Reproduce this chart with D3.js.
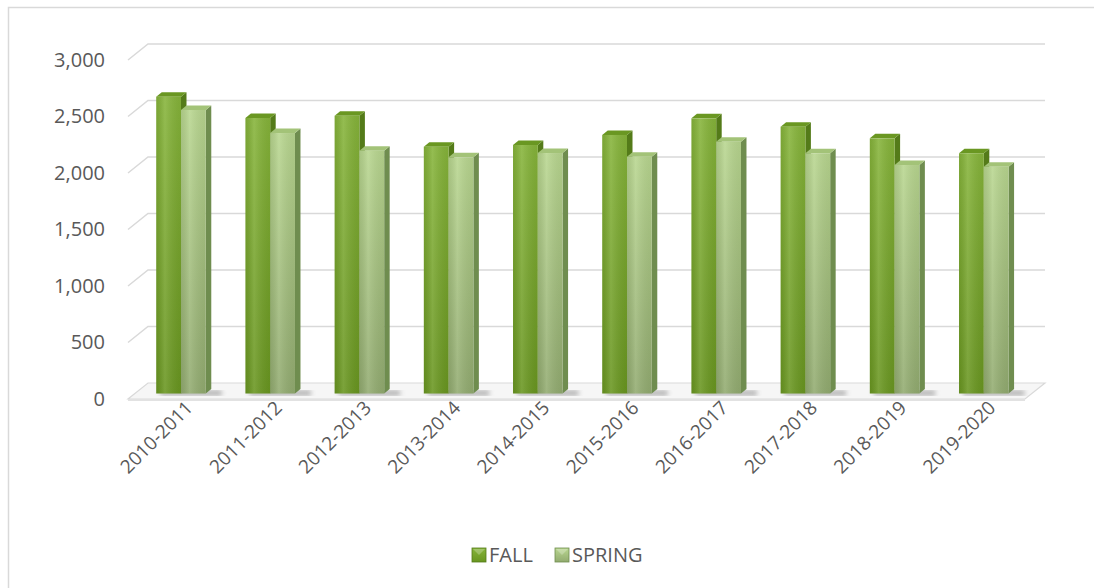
<!DOCTYPE html>
<html>
<head>
<meta charset="utf-8">
<script src="https://cdn.jsdelivr.net/npm/d3@7"></script>
<style>
  body { margin: 0; background: #fff; }
  svg { display: block; font-family: "Open Sans", "Noto Sans", sans-serif; }
</style>
</head>
<body>
<svg id="chart" width="1094" height="588"></svg>
<script>
const categories = ["2010-2011", "2011-2012", "2012-2013", "2013-2014", "2014-2015",
  "2015-2016", "2016-2017", "2017-2018", "2018-2019", "2019-2020"];
const seriesNames = ["FALL", "SPRING"];
const fall = [2627, 2438, 2458, 2184, 2199, 2288, 2435, 2361, 2258, 2126];
const spring = [2509, 2305, 2149, 2090, 2128, 2096, 2228, 2126, 2022, 2007];
const yTicks = [0, 500, 1000, 1500, 2000, 2500, 3000];

const svg = d3.select("#chart");

// oblique 3d: front plane, back wall, and the plane the bars sit in
const depth = { x: 20, y: -16 };
const barDepth = { x: 5.5, y: -4.5 };
const frontLeft = 128, frontRight = 1025;

const yFront = d3.scaleLinear().domain([0, 3000]).range([399, 60]);
const yBack = d3.scaleLinear().domain([0, 3000]).range([383, 44]);
const yBar = d3.scaleLinear().domain([0, 3000]).range([393.5, 54.5]);

const x = d3.scaleBand().domain(categories).range([136.4, 1028.4]);
const xSub = d3.scaleBand().domain(seriesNames).range([0, x.bandwidth()]).paddingOuter(0.8);

const colors = {
  FALL: { top: "#86b43a", bottom: "#699620", lid: "#6a9722", side: "#547b19" },
  SPRING: { top: "#b8d68f", bottom: "#92ab70", lid: "#a3c378", side: "#6f8d4f" }
};

const defs = svg.append("defs");
seriesNames.forEach(s => {
  const g = defs.append("linearGradient").attr("id", "grad" + s)
    .attr("x1", 0).attr("y1", 0).attr("x2", 0).attr("y2", 1);
  g.append("stop").attr("offset", "0%").attr("stop-color", colors[s].top);
  g.append("stop").attr("offset", "100%").attr("stop-color", colors[s].bottom);
  const h = defs.append("linearGradient").attr("id", "shine" + s)
    .attr("x1", 0).attr("y1", 0).attr("x2", 1).attr("y2", 0);
  h.append("stop").attr("offset", "0%").attr("stop-color", "#000").attr("stop-opacity", 0.08);
  h.append("stop").attr("offset", "35%").attr("stop-color", "#fff").attr("stop-opacity", 0.12);
  h.append("stop").attr("offset", "100%").attr("stop-color", "#000").attr("stop-opacity", 0.06);
});
defs.append("filter").attr("id", "blur").append("feGaussianBlur").attr("stdDeviation", 2.5);

// chart frame
svg.append("rect")
  .attr("x", 8.5).attr("y", 7.5).attr("width", 1200).attr("height", 700)
  .attr("fill", "none").attr("stroke", "#d9d9d9").attr("stroke-width", 1.5);

// floor
const floorPts = [
  [frontLeft, yFront(0)], [frontRight, yFront(0)],
  [frontRight + depth.x, yBack(0)], [frontLeft + depth.x, yBack(0)]
];
svg.append("polygon")
  .attr("points", floorPts.map(p => p.join(",")).join(" "))
  .attr("fill", "#f6f6f6").attr("stroke", "#d9d9d9").attr("stroke-width", 1.2);
svg.append("rect")
  .attr("x", frontLeft).attr("y", yFront(0)).attr("width", frontRight - frontLeft).attr("height", 2)
  .attr("fill", "#e2e2e2");

// gridlines: back wall + left diagonal
const grid = svg.append("g").attr("stroke", "#d9d9d9").attr("stroke-width", 1.5).attr("fill", "none");
yTicks.filter(v => v > 0).forEach(v => {
  grid.append("polyline")
    .attr("points", `${frontLeft},${yFront(v)} ${frontLeft + depth.x},${yBack(v)} ${frontRight + depth.x},${yBack(v)}`);
});

// bar shadows on floor
const shadows = svg.append("g").attr("filter", "url(#blur)").attr("fill", "#7a7a7a").attr("opacity", 0.6);
categories.forEach(c => {
  const x0 = x(c) + xSub("FALL");
  const w = xSub.bandwidth() * 2;
  shadows.append("rect")
    .attr("x", x0 + 4).attr("y", yBar(0) - 3).attr("width", w + 12).attr("height", 5);
});

// bars
const bars = svg.append("g");
categories.forEach((c, i) => {
  const vals = { FALL: fall[i], SPRING: spring[i] };
  seriesNames.forEach(s => {
    const x0 = x(c) + xSub(s);
    const w = xSub.bandwidth();
    const y0 = yBar(vals[s]);
    const y1 = yBar(0);
    const dx = barDepth.x, dy = barDepth.y;
    const g = bars.append("g").attr("stroke-linejoin", "round");
    // side face
    g.append("polygon")
      .attr("points", `${x0 + w},${y0} ${x0 + w + dx},${y0 + dy} ${x0 + w + dx},${y1 + dy} ${x0 + w},${y1}`)
      .attr("fill", colors[s].side);
    // top face
    g.append("polygon")
      .attr("points", `${x0},${y0} ${x0 + dx},${y0 + dy} ${x0 + w + dx},${y0 + dy} ${x0 + w},${y0}`)
      .attr("fill", colors[s].lid);
    // front face
    g.append("rect")
      .attr("x", x0).attr("y", y0).attr("width", w).attr("height", y1 - y0)
      .attr("fill", `url(#grad${s})`);
    g.append("rect")
      .attr("x", x0).attr("y", y0).attr("width", w).attr("height", y1 - y0)
      .attr("fill", `url(#shine${s})`);
  });
});

// y axis labels
const yAxis = svg.append("g")
  .attr("transform", "translate(105,0)")
  .call(d3.axisLeft(yFront).tickValues(yTicks).tickSize(0).tickPadding(0).tickFormat(d3.format(",")));
yAxis.select(".domain").remove();
yAxis.selectAll("text")
  .attr("font-size", 20).attr("font-family", "'Open Sans', sans-serif").attr("fill", "#595959");

// x axis labels
const xAxis = svg.append("g")
  .attr("transform", "translate(13,409)")
  .call(d3.axisBottom(x).tickSize(0).tickPadding(0));
xAxis.select(".domain").remove();
xAxis.selectAll("text")
  .attr("font-size", 19).attr("font-family", "'Open Sans', sans-serif").attr("fill", "#595959")
  .attr("text-anchor", "end").attr("dy", 0).attr("y", 0)
  .attr("transform", "rotate(-45)");

// legend
const legend = svg.append("g").attr("transform", "translate(472,548)");
const legendX = [0, 83];
seriesNames.forEach((s, i) => {
  const item = legend.append("g").attr("transform", `translate(${legendX[i]},0)`);
  item.append("rect").attr("width", 14).attr("height", 14).attr("fill", `url(#grad${s})`)
    .attr("stroke", colors[s].side).attr("stroke-width", 0.8);
  item.append("polygon").attr("points", "1,1 13,1 7,7").attr("fill", "#fff").attr("opacity", 0.25);
  item.append("text").attr("x", 17).attr("y", 7).attr("dy", "0.35em")
    .attr("font-size", 20).attr("fill", "#595959").text(s);
});
</script>
</body>
</html>
